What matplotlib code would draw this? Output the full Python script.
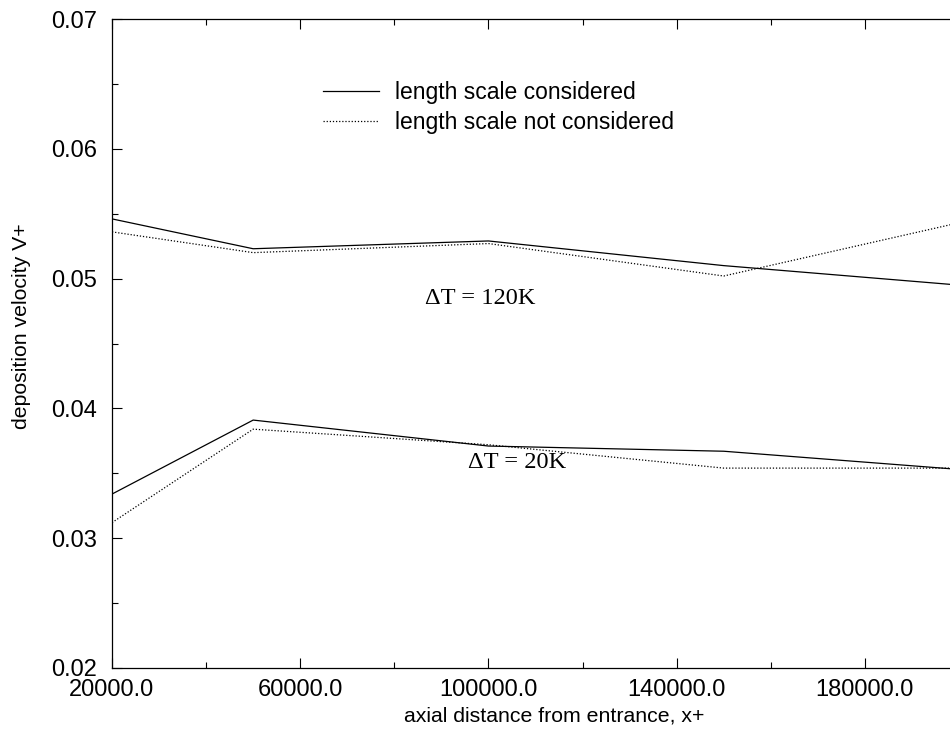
import matplotlib
matplotlib.use("Agg")
import matplotlib.pyplot as plt
from matplotlib.ticker import MultipleLocator, FormatStrFormatter

# axial positions (x+) where deposition velocity was computed
x_pos = [20000, 50000, 100000, 150000, 200000]

# deposition velocity V+ for dT = 120K
v120_scale = [0.0546, 0.0523, 0.0529, 0.0510, 0.0495]
v120_noscale = [0.0536, 0.0520, 0.0527, 0.0502, 0.0543]

# deposition velocity V+ for dT = 20K
v20_scale = [0.0334, 0.0391, 0.0371, 0.0367, 0.0353]
v20_noscale = [0.0312, 0.0384, 0.0372, 0.0354, 0.0354]

plt.rcParams['font.family'] = ['Liberation Sans', 'DejaVu Sans']

fig = plt.figure(figsize=(9.5, 7.34), dpi=100)
# axes run slightly past the right edge of the figure
ax = fig.add_axes([112 / 950, 66 / 734, 847 / 950, 649 / 734])

lw = 0.9
ax.plot(x_pos, v120_scale, color='black', lw=lw, label='length scale considered')
ax.plot(x_pos, v120_noscale, color='black', lw=lw, ls=(0, (1, 1.5)),
        label='length scale not considered')
ax.plot(x_pos, v20_scale, color='black', lw=lw)
ax.plot(x_pos, v20_noscale, color='black', lw=lw, ls=(0, (1, 1.5)))

ax.set_xlim(20000, 200000)
ax.set_ylim(0.02, 0.07)

ax.xaxis.set_major_locator(MultipleLocator(40000, offset=20000))
ax.xaxis.set_minor_locator(MultipleLocator(20000))
ax.xaxis.set_major_formatter(FormatStrFormatter('%.1f'))
ax.yaxis.set_major_locator(MultipleLocator(0.01))
ax.yaxis.set_minor_locator(MultipleLocator(0.005))
ax.yaxis.set_major_formatter(FormatStrFormatter('%.2f'))

ax.tick_params(which='both', direction='in', top=True, right=False, width=0.8)
ax.tick_params(which='major', length=7)
ax.tick_params(which='minor', length=4)
ax.tick_params(axis='x', labelsize=17, pad=8)
ax.tick_params(axis='y', labelsize=17, pad=11)
for s in ax.spines.values():
    s.set_linewidth(0.9)

ax.set_xlabel('axial distance from entrance, x+', fontsize=15.3)
ax.xaxis.set_label_coords(0.522, -0.060)
ax.set_ylabel('deposition velocity V+', fontsize=15.3)
ax.yaxis.set_label_coords(-0.0956, 0.526)

ax.text(98200, 0.0485, '\u0394T = 120K', fontsize=17.6,
        family='Liberation Serif', ha='center', va='center')
ax.text(106000, 0.0358, '\u0394T = 20K', fontsize=17.6,
        family='Liberation Serif', ha='center', va='center')

ax.legend(loc='upper left', bbox_to_anchor=(0.249, 0.905), frameon=False,
          fontsize=16.5, handlelength=2.45, handletextpad=0.7, labelspacing=0.3,
          borderpad=0, borderaxespad=0)

fig.savefig('out.png', dpi=100)
